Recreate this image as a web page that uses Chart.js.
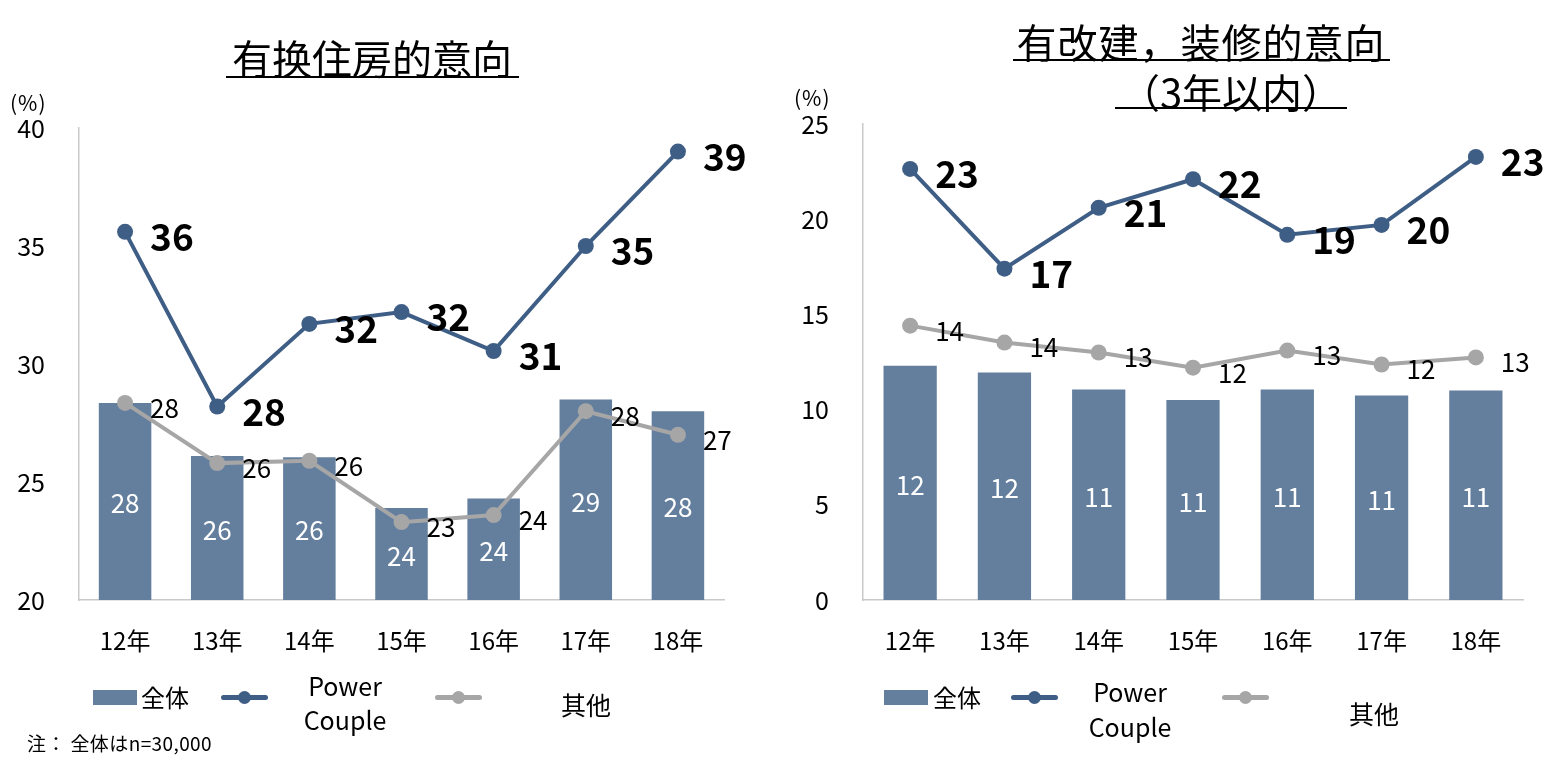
<!DOCTYPE html>
<html>
<head>
<meta charset="utf-8">
<script src="https://cdn.jsdelivr.net/npm/chart.js@4.4.1/dist/chart.umd.min.js"></script>
<style>
  html, body { margin: 0; padding: 0; background: #fff; }
  #wrap { position: relative; width: 1547px; height: 766px; overflow: hidden; font-family: "Noto Sans CJK JP", "Noto Sans", sans-serif; color: #000; }
  .abs { position: absolute; white-space: nowrap; line-height: 1; }
  canvas { position: absolute; top: 0; }
  .ttl { font-size: 40px; }
  .uline { position: absolute; height: 2px; background: #000; }
  .lg { font-size: 24px; }
  .lgc { font-size: 25px; transform: translate(-50%, -50%); }
  .rect { position: absolute; height: 15px; width: 44px; background: #647f9e; }
  .lline { position: absolute; height: 5px; width: 47px; border-radius: 3px; }
  .ldot { position: absolute; width: 13px; height: 13px; border-radius: 50%; }
</style>
</head>
<body>
<div id="wrap">
  <canvas id="c1" width="770" height="766" style="left:0px"></canvas>
  <canvas id="c2" width="777" height="766" style="left:770px"></canvas>

  <!-- titles -->
  <div class="abs ttl" style="left:372px; top:57px; transform:translate(-50%,-50%);">有换住房的意向</div>
  <div class="uline" style="left:226px; top:76px; width:293px;"></div>
  <div class="abs ttl" style="left:1201px; top:41px; transform:translate(-50%,-50%); letter-spacing:1px;">有改建，装修的意向</div>
  <div class="uline" style="left:1013px; top:59px; width:377px;"></div>
  <div class="abs ttl" style="left:1231px; top:91px; transform:translate(-50%,-50%);">（3年以内）</div>
  <div class="uline" style="left:1115px; top:107px; width:232px;"></div>

  <!-- unit labels -->
  <div class="abs" style="left:10px; top:102px; font-size:21px; letter-spacing:1px; transform:translateY(-50%);">(%)</div>
  <div class="abs" style="left:794px; top:97px; font-size:21px; letter-spacing:1px; transform:translateY(-50%);">(%)</div>

  <!-- left legend -->
  <div class="rect" style="left:93px; top:690px;"></div>
  <div class="abs lg" style="left:141px; top:697px; transform:translateY(-50%);">全体</div>
  <div class="lline" style="left:221px; top:695px; background:#3f5e86;"></div>
  <div class="ldot" style="left:238px; top:691px; background:#3f5e86;"></div>
  <div class="abs lgc" style="left:345px; top:685px;">Power</div>
  <div class="abs lgc" style="left:345px; top:719px;">Couple</div>
  <div class="lline" style="left:435px; top:695px; background:#a6a6a6;"></div>
  <div class="ldot" style="left:452px; top:691px; background:#a6a6a6;"></div>
  <div class="abs lgc" style="left:586px; top:704px;">其他</div>

  <!-- right legend -->
  <div class="rect" style="left:884px; top:690px;"></div>
  <div class="abs lg" style="left:933px; top:697px; transform:translateY(-50%);">全体</div>
  <div class="lline" style="left:1011px; top:695px; background:#3f5e86;"></div>
  <div class="ldot" style="left:1028px; top:691px; background:#3f5e86;"></div>
  <div class="abs lgc" style="left:1130px; top:691px;">Power</div>
  <div class="abs lgc" style="left:1130px; top:726px;">Couple</div>
  <div class="lline" style="left:1222px; top:695px; background:#a6a6a6;"></div>
  <div class="ldot" style="left:1239px; top:691px; background:#a6a6a6;"></div>
  <div class="abs lgc" style="left:1374px; top:713px;">其他</div>

  <!-- note -->
  <div class="abs" style="left:27px; top:742px; font-size:19px; letter-spacing:0.4px; transform:translateY(-50%);">注： 全体はn=30,000</div>
</div>

<script>
// ---- data ----
const categories = ["12年", "13年", "14年", "15年", "16年", "17年", "18年"];

// 有换住房的意向
const moveAll   = [28.35, 26.1, 26.05, 23.9, 24.3, 28.5, 28.0];
const movePower = [35.6, 28.2, 31.7, 32.2, 30.55, 35.0, 39.0];
const moveOther = [28.35, 25.8, 25.9, 23.3, 23.6, 28.0, 27.0];
const moveTicks = { min: 20, max: 40, step: 5 };

// 有改建，装修的意向（3年以内）
const renoAll   = [12.3, 11.95, 11.06, 10.5, 11.06, 10.74, 11.0];
const renoPower = [22.64, 17.4, 20.6, 22.1, 19.18, 19.7, 23.27];
const renoOther = [14.41, 13.52, 13.0, 12.2, 13.1, 12.37, 12.74];
const renoTicks = { min: 0, max: 25, step: 5 };

const FONT = '"Noto Sans CJK JP", "Noto Sans", sans-serif';
const C_BAR = '#647f9e';
const C_PC = '#3f5e86';
const C_OT = '#a6a6a6';

const labelPlugin = {
  id: 'valueLabels',
  afterDatasetsDraw(chart) {
    const ctx = chart.ctx;
    const bottom = chart.chartArea.bottom;
    ctx.save();
    chart.data.datasets.forEach((ds, di) => {
      const meta = chart.getDatasetMeta(di);
      meta.data.forEach((el, i) => {
        const txt = String(Math.round(ds.data[i]));
        if (ds.type === 'bar') {
          const base = Math.min(el.base, bottom);
          ctx.font = '26px ' + FONT;
          ctx.fillStyle = '#ffffff';
          ctx.textAlign = 'center';
          ctx.textBaseline = 'middle';
          ctx.fillText(txt, el.x, (el.y + base) / 2 + 2);
        } else if (ds.kind === 'pc') {
          ctx.font = 'bold 37px ' + FONT;
          ctx.fillStyle = '#000';
          ctx.textAlign = 'left';
          ctx.textBaseline = 'middle';
          ctx.fillText(txt, el.x + 25, el.y + 5);
        } else {
          ctx.font = '26px ' + FONT;
          ctx.fillStyle = '#000';
          ctx.textAlign = 'left';
          ctx.textBaseline = 'middle';
          ctx.fillText(txt, el.x + 25, el.y + 5);
        }
      });
    });
    ctx.restore();
  }
};

function makeChart(id, all, power, other, tk, geom) {
  new Chart(document.getElementById(id), {
    data: {
      labels: categories,
      datasets: [
        { type: 'line', kind: 'pc', label: 'Power Couple', data: power, borderColor: C_PC, backgroundColor: C_PC,
          borderWidth: 4, pointRadius: 8, pointHoverRadius: 8, pointBackgroundColor: C_PC, pointBorderWidth: 0, order: 1, tension: 0 },
        { type: 'line', kind: 'ot', label: '其他', data: other, borderColor: C_OT, backgroundColor: C_OT,
          borderWidth: 4, pointRadius: 8, pointHoverRadius: 8, pointBackgroundColor: C_OT, pointBorderWidth: 0, order: 2, tension: 0 },
        { type: 'bar', label: '全体', data: all, backgroundColor: C_BAR, borderWidth: 0,
          categoryPercentage: 1, barPercentage: geom.barPct, order: 3 }
      ]
    },
    options: {
      responsive: false,
      animation: false,
      devicePixelRatio: 1,
      layout: { padding: { top: geom.top, right: geom.right, bottom: 0, left: 0 } },
      plugins: { legend: { display: false }, tooltip: { enabled: false }, title: { display: false } },
      scales: {
        x: {
          type: 'category',
          offset: true,
          grid: { display: false, drawTicks: false },
          border: { display: true, color: '#c9c9c9', width: 1.5 },
          ticks: { color: '#000', font: { family: FONT, size: 24 }, padding: 26, maxRotation: 0 },
          afterFit(s) { s.height = 766 - 600; }
        },
        y: {
          min: tk.min, max: tk.max,
          grid: { display: false, drawTicks: false },
          border: { display: true, color: '#c9c9c9', width: 1.5 },
          ticks: { stepSize: tk.step, color: '#000', font: { family: FONT, size: 25 }, padding: geom.tickPad },
          afterFit(s) { s.width = geom.yw; }
        }
      }
    },
    plugins: [labelPlugin]
  });
}

makeChart('c1', moveAll, movePower, moveOther, moveTicks, { top: 128, right: 46, yw: 79, tickPad: 34, barPct: 0.57 });
makeChart('c2', renoAll, renoPower, renoOther, renoTicks, { top: 124, right: 24, yw: 93, tickPad: 34, barPct: 0.565 });
</script>
</body>
</html>
